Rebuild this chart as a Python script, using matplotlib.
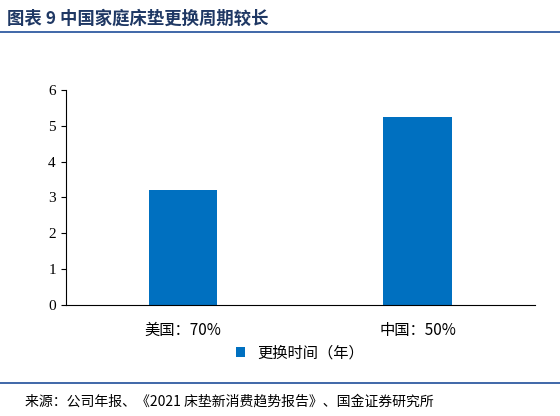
import matplotlib
matplotlib.use('Agg')
import matplotlib.pyplot as plt
from matplotlib.lines import Line2D

plt.rcParams['font.family'] = ['Noto Sans CJK SC', 'DejaVu Sans']

categories = ['美国：70%', '中国：50%']
values = [3.22, 5.25]
series_name = '更换时间（年）'
yticks = [0, 1, 2, 3, 4, 5, 6]

fig = plt.figure(figsize=(5.6, 4.16), dpi=100)
ax = fig.add_axes([0.117, 0.267, 0.838, 0.517])
ax.bar([0, 1], values, width=0.29, color='#0070C0', label=series_name)
ax.set_xlim(-0.5, 1.5)
ax.set_ylim(0, 6)
ax.set_yticks(yticks)
ax.set_xticks([0, 1])
ax.set_xticklabels(categories)
for s in ['top', 'right']:
    ax.spines[s].set_visible(False)
ax.tick_params(axis='x', length=0, pad=12, labelsize=11)
ax.tick_params(axis='y', labelsize=11, direction='out')
for lab in ax.get_yticklabels():
    lab.set_family(['Times New Roman', 'Liberation Serif', 'DejaVu Serif'])
ax.legend(loc='upper center', bbox_to_anchor=(0.5, -0.12), frameon=False,
          fontsize=11, handlelength=0.6, handleheight=0.6)

fig.text(0.012, 0.955, '图表 9 中国家庭床垫更换周期较长', fontsize=12.5,
         fontweight='bold', style='italic', color='#1F3864', va='center')
fig.add_artist(Line2D([0.0, 1.0], [0.922, 0.922], color='#1F4E9A', lw=1.2))
fig.add_artist(Line2D([0.0, 1.0], [0.08, 0.08], color='#1F4E9A', lw=1.2))
fig.text(0.045, 0.035, '来源：公司年报、《2021 床垫新消费趋势报告》、国金证券研究所',
         fontsize=10, va='center')
fig.savefig('out.png', dpi=100)
